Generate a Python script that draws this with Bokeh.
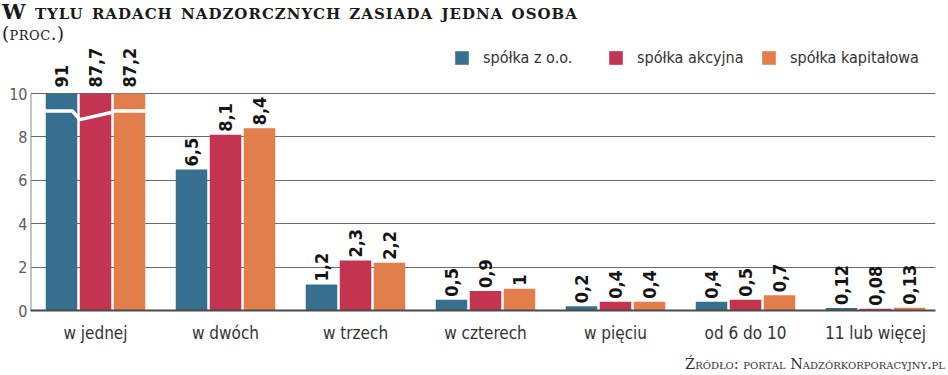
import numpy as np
from bokeh.plotting import figure
from bokeh.models import Range1d, FixedTicker, Legend, LegendItem, Div
from bokeh.layouts import column
from bokeh.embed import file_html
from bokeh.resources import INLINE
from bokeh.core.properties import value

# ---------------- data ----------------
categories = ["w jednej", "w dwóch", "w trzech", "w czterech", "w pięciu", "od 6 do 10", "11 lub więcej"]
series_names = ["spółka z o.o.", "spółka akcyjna", "spółka kapitałowa"]
spolka_zoo = [91, 6.5, 1.2, 0.5, 0.2, 0.4, 0.12]
spolka_akcyjna = [87.7, 8.1, 2.3, 0.9, 0.4, 0.5, 0.08]
spolka_kapitalowa = [87.2, 8.4, 2.2, 1, 0.4, 0.7, 0.13]
y_ticks = [0, 2, 4, 6, 8, 10]
axis_max = 10

title_text = "W tylu radach nadzorcznych zasiada jedna osoba"
subtitle_text = "(proc.)"
source_text = "Źródło: portal Nadzórkorporacyjny.pl"

colors = ["#37708f", "#c2344f", "#e27e4b"]

# ---------------- layout helpers ----------------
W = 948
TITLE_H = 44
LEFT, RIGHT, BOTTOM = 30, 13, 45
FRAME_H = 266
SOURCE_H = 375 - TITLE_H - FRAME_H - BOTTOM
GROUP_PX = 130.0
PX_PER_UNIT = 21.69
x0 = -0.5
x1 = x0 + (W - LEFT - RIGHT) / GROUP_PX
y1 = FRAME_H / PX_PER_UNIT

NARROW = "'DejaVu Sans Condensed', 'Roboto Condensed', 'Liberation Sans Narrow', Roboto, sans-serif"
SERIF = "'DejaVu Serif', serif"

p = figure(width=W, height=FRAME_H + BOTTOM, x_range=Range1d(x0, x1), y_range=Range1d(0, y1),
           output_backend="svg", toolbar_location=None,
           min_border_left=LEFT, min_border_right=RIGHT, min_border_top=0,
           min_border_bottom=BOTTOM, margin=0)
p.outline_line_color = None
p.background_fill_color = "white"
p.xgrid.grid_line_color = None
p.ygrid.ticker = FixedTicker(ticks=y_ticks)
p.ygrid.grid_line_color = "#6a6a6a"
p.ygrid.grid_line_width = 1

# axes
p.yaxis.ticker = FixedTicker(ticks=y_ticks)
p.yaxis.axis_line_color = None
p.yaxis.major_tick_line_color = None
p.yaxis.minor_tick_line_color = None
p.yaxis.major_tick_out = 0
p.yaxis.major_tick_in = 0
p.yaxis.minor_tick_out = 0
p.yaxis.major_label_text_font = NARROW
p.yaxis.major_label_text_font_size = "16px"
p.yaxis.major_label_text_color = "#5a5a5a"
p.yaxis.major_label_standoff = 3

p.xaxis.ticker = FixedTicker(ticks=list(range(len(categories))))
p.xaxis.major_label_overrides = {i: c for i, c in enumerate(categories)}
p.xaxis.axis_line_color = "#4a4a4a"
p.xaxis.axis_line_width = 2
p.xaxis.major_tick_line_color = None
p.xaxis.minor_tick_line_color = None
p.xaxis.major_tick_out = 0
p.xaxis.major_tick_in = 0
p.xaxis.minor_tick_out = 0
p.xaxis.major_label_text_font = NARROW
p.xaxis.major_label_text_font_size = "17px"
p.xaxis.major_label_text_color = "#333333"
p.xaxis.major_label_standoff = 12

# vertical axis line only up to 10
p.segment(x0=[x0], y0=[0], x1=[x0], y1=[axis_max], line_color="#8a8a8a", line_width=2)

# bars
step = 34 / GROUP_PX
bar_w = 31.5 / GROUP_PX
xs = np.arange(len(categories))
renderers = []
for k, (vals, col) in enumerate(zip([spolka_zoo, spolka_akcyjna, spolka_kapitalowa], colors)):
    vals = np.array(vals, dtype=float)
    shown = np.minimum(vals, axis_max)
    bx = xs + (k - 1) * step
    r = p.vbar(x=bx, top=shown, width=bar_w, bottom=0, fill_color=col, line_color=None)
    renderers.append(r)
    gap = np.where(vals > axis_max, 6, 3) / PX_PER_UNIT
    labels = [f"{v:g}".replace(".", ",") for v in vals]
    p.text(x=bx, y=shown + gap, text=labels, angle=np.pi / 2, text_align="left",
           text_baseline="middle", text_font=value(NARROW), text_font_style="bold",
           text_font_size="18px", text_color="#141414")

# break line across truncated group
cut = [i for i in range(len(categories)) if spolka_zoo[i] > axis_max]
for i in cut:
    bl = i - step - bar_w / 2
    br = i - step + bar_w / 2
    rl = i - bar_w / 2
    rr = i + bar_w / 2
    ol = i + step - bar_w / 2
    orr = i + step + bar_w / 2
    bx_ = [bl - 0.01, br - 5 / GROUP_PX, rl, rr, ol, orr + 0.01]
    by_ = [9.2, 9.2, 8.8, 9.13, 9.2, 9.2]
    p.line(bx_, by_, line_color="white", line_width=3.5)

# legend: one item per box placed like the reference
legend_px = [453, 607, 760]
legend_top = 50 - TITLE_H
for r, name, lx in zip(renderers, series_names, legend_px):
    lg = Legend(items=[LegendItem(label=name, renderers=[r])],
                location=(lx - LEFT, FRAME_H - legend_top - 17), orientation="horizontal",
                glyph_width=17, glyph_height=17, label_height=17, label_standoff=13,
                padding=0, margin=0, border_line_color=None, background_fill_alpha=0,
                label_text_font=NARROW, label_text_font_size="16px",
                label_text_color="#333333", label_text_baseline="middle")
    p.add_layout(lg)

title_div = Div(
    text=(f"<div style=\"font-family:{SERIF}; font-variant:small-caps; color:#1a1a1a; "
          f"padding-left:2px;\">"
          f"<div style=\"font-weight:bold; font-size:21px; line-height:24px; letter-spacing:1px;\">{title_text}</div>"
          f"<div style=\"font-size:18px; line-height:19px; letter-spacing:0.5px;\">{subtitle_text}</div></div>"),
    width=W, height=TITLE_H, margin=0)

source_div = Div(
    text=(f"<div style=\"font-family:{SERIF}; font-variant:small-caps; color:#333333; "
          f"font-size:14.5px; line-height:19px; text-align:right; width:{W - 3}px;\">{source_text}</div>"),
    width=W, height=SOURCE_H, margin=0)

layout = column(title_div, p, source_div, spacing=0, margin=0)
open("out.html", "w").write(file_html(layout, INLINE))
